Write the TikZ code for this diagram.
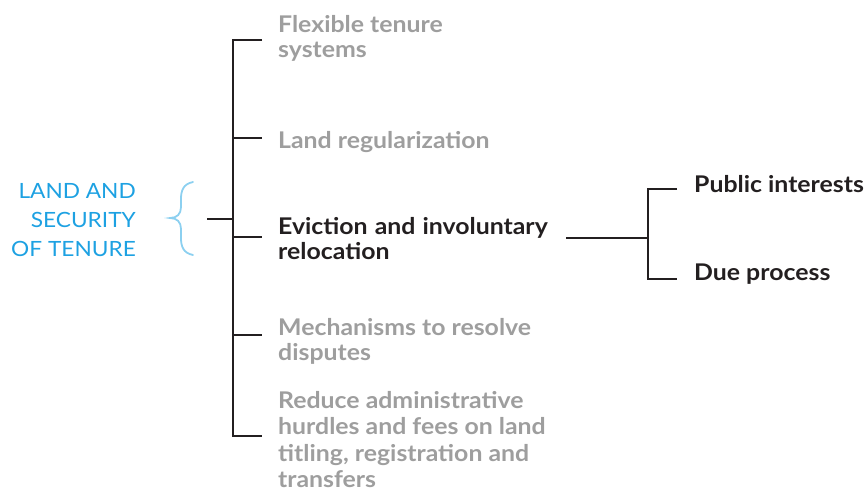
\documentclass[tikz,border=0pt]{standalone}
\usepackage{fontspec}
\setmainfont{Lato}[FakeStretch=1.08]
\definecolor{txtgray}{RGB}{158,158,158}
\definecolor{txtdark}{RGB}{35,31,32}
\definecolor{txtblue}{RGB}{29,161,226}
\definecolor{bracecol}{RGB}{140,208,240}
\newcommand\LinesL[1]{\vtop{\halign{##\hfil\cr#1\crcr}}}
\newcommand\LinesR[1]{\vtop{\halign{\hfil##\cr#1\crcr}}}
\begin{document}
\begin{tikzpicture}[x=1pt,y=-1pt,
  lbl/.style={inner sep=0pt,anchor=base west,font=\bfseries\fontsize{23}{25.5}\selectfont},
  grey/.style={lbl,text=txtgray},
  dark/.style={lbl,text=txtdark},
  tree/.style={draw=txtdark,line width=2pt},
]
\useasboundingbox (0,0) rectangle (865,488);
% root label
\node[inner sep=0pt,anchor=base east,text=txtblue,font=\fontsize{21}{29}\selectfont] (root) at (136,198)
  {\LinesR{LAND AND\cr SECURITY\cr OF TENURE}};
% brace
\draw[bracecol,line width=1.8pt,line cap=round]
  (193,182) .. controls (183,184) and (181,191) .. (181,199) -- (181,207)
  .. controls (181,214) and (177,218) .. (170,218)
  .. controls (177,218) and (181,222) .. (181,229) -- (181,238)
  .. controls (181,246) and (183,253) .. (193,255);
% branch texts
\node[grey] (t1) at (278,32) {\LinesL{Flexible tenure\cr systems}};
\node[grey] (t2) at (278,148) {Land regularization};
\node[dark] (t3) at (278,234) {\LinesL{Eviction\hspace{1pt} and\hspace{1pt} involuntary\cr relocation}};
\node[grey] (t4) at (278,335) {\LinesL{Mechanisms to resolve\cr disputes}};
\node[grey,font=\bfseries\fontsize{23}{26.5}\selectfont] (t5) at (278,408) {\LinesL{Reduce administrative\cr hurdles and fees on land\cr titling, registration and\cr transfers}};
\node[dark] (r1) at (694,192) {Public interests};
\node[dark] (r2) at (694,280) {Due process};
% tree coordinates
\coordinate (s0) at (207,219);
\coordinate (s1) at (233,219);
\coordinate (top) at (233,40);
\coordinate (bot) at (233,436);
\coordinate (e1) at (262,40);
\coordinate (e2) at (262,138);
\coordinate (e3) at (262,237);
\coordinate (e4) at (262,335);
\coordinate (e5) at (262,436);
\draw[tree] (s0) -- (s1);
\draw[tree] (e1) -- (top) -- (bot) -- (e5);
\draw[tree] (e2 -| top) -- (e2);
\draw[tree] (e3 -| top) -- (e3);
\draw[tree] (e4 -| top) -- (e4);
% right subtree
\coordinate (q0) at (566,238);
\coordinate (q1) at (648,238);
\coordinate (qa) at (677,189);
\coordinate (qb) at (677,279);
\draw[tree] (q0) -- (q1);
\draw[tree] (qa) -| (q1) |- (qb);
\end{tikzpicture}
\end{document}
